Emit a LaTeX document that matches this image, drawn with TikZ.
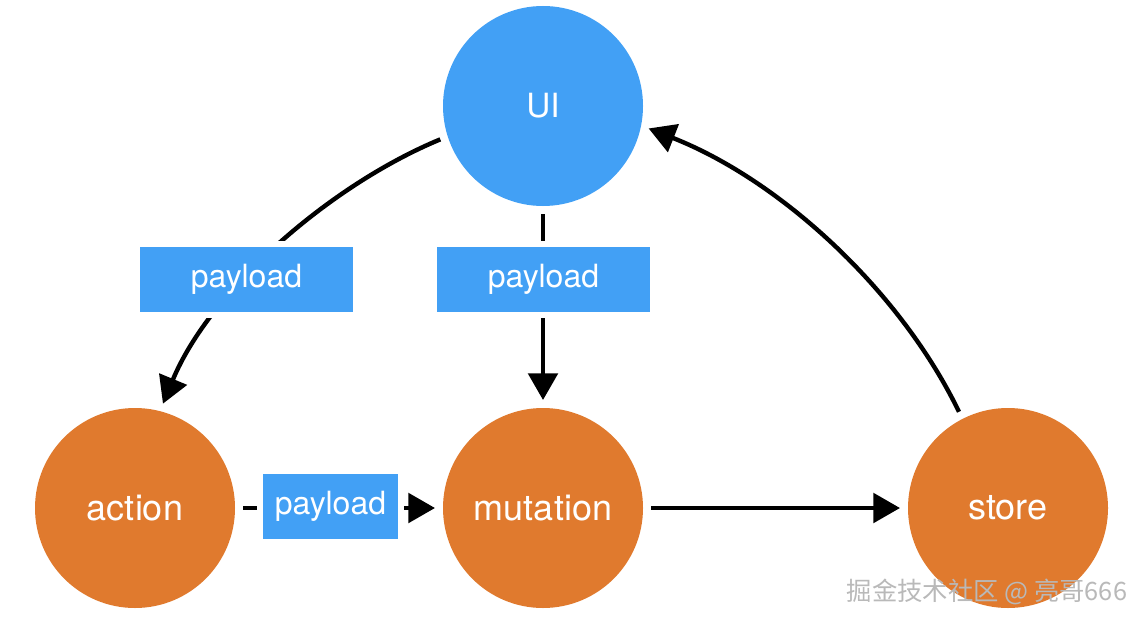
\documentclass[tikz,border=0pt]{standalone}
\usepackage{fontspec}
\setmainfont{TeX Gyre Heros}
\newfontfamily\cjk{Noto Sans CJK SC}
\usetikzlibrary{arrows.meta}
\definecolor{uiblue}{RGB}{66,160,245}
\definecolor{vorange}{RGB}{224,122,46}
\begin{document}
\begin{tikzpicture}[x=0.75pt,y=-0.75pt,
  circ/.style={circle, minimum size=150pt, inner sep=0pt, outer sep=6pt, text=white, font=\fontsize{27}{30}\selectfont},
  bluec/.style={circ, fill=uiblue},
  orangec/.style={circ, fill=vorange},
  flow/.style={line width=3.3pt, -{Triangle[length=20pt,width=22pt]}},
  pbox/.style={fill=uiblue, minimum width=160pt, minimum height=48.75pt, inner sep=0pt, text=white, font=\fontsize{24}{28}\selectfont, preaction={draw=white, line width=9pt}}
]
\useasboundingbox (0,0) rectangle (1144,624);
\fill[white] (0,0) rectangle (1144,624);

\node[bluec, font=\fontsize{25}{28}\selectfont] (ui) at (543,106) {UI};
\node[orangec] (action) at (135,508) {action};
\node[orangec] (mutation) at (543,508) {mutation};
\node[orangec] (store) at (1008,508) {store};

\draw[flow] (ui.198) .. controls (330,185) and (210,290) .. (action.75);
\draw[flow] (ui) -- (mutation);
\draw[flow] (action) -- (mutation);
\draw[flow] (mutation) -- (store);
\draw[flow] (store.117) .. controls (900,290) and (780,180) .. (ui.-12);

\node[pbox] (p1) at (246.5,279.5) {\raisebox{-2pt}{payload}};
\node[pbox] (p2) at (543.5,279.5) {\raisebox{-2pt}{payload}};
\node[pbox, minimum width=101pt] (p3) at (330.5,506.5) {payload};

\node[font=\cjk\fontsize{19}{21}\selectfont, text=gray!55] (wm) at (987,592) {掘金技术社区 @ 亮哥666};
\end{tikzpicture}
\end{document}
